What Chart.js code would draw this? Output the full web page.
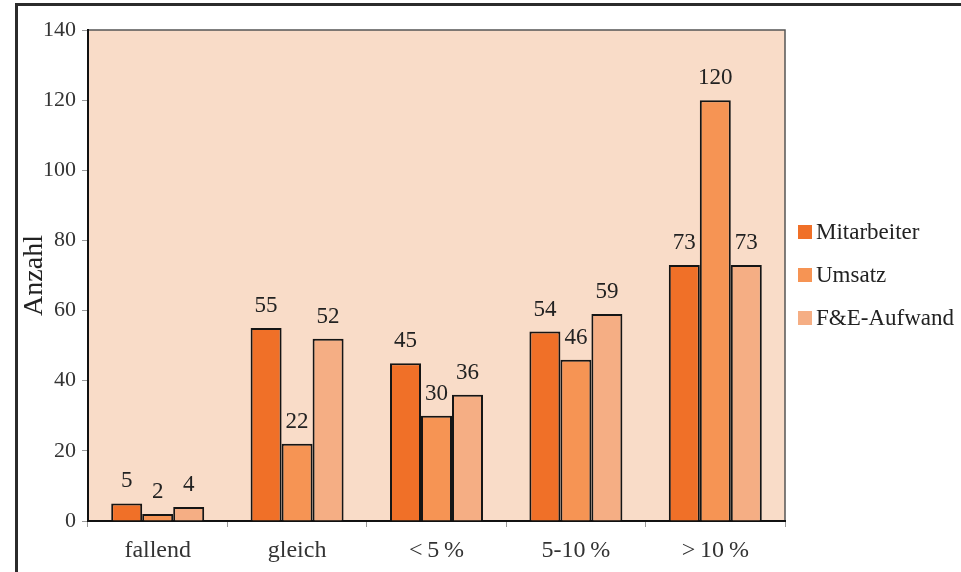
<!DOCTYPE html>
<html lang="de">
<head>
<meta charset="utf-8">
<title>Anzahl nach Entwicklung</title>
<script src="https://cdn.jsdelivr.net/npm/chart.js@4.4.1/dist/chart.umd.min.js"></script>
<style>
    html, body { margin: 0; padding: 0; background: #fff; }
    body { width: 961px; height: 572px; position: relative; overflow: hidden; }
    #frame {
        position: absolute; left: 15px; top: 3px;
        width: 946px; height: 569px;
        border-left: 3px solid #2b2b2b; border-top: 3px solid #2b2b2b;
    }
    #chart { display: block; }
    #legend { position: absolute; left: 798px; top: 0; font-family: "Liberation Serif", serif; font-size: 23px; color: #222; }
    .item { position: absolute; left: 0; height: 30px; display: flex; align-items: center; white-space: nowrap; }
    .box { width: 14px; height: 14px; margin-right: 4px; }
</style>
</head>
<body>
<div id="frame"><canvas id="chart" width="943" height="566"></canvas></div>
<div id="legend"></div>
<script>
// Daten
const kategorien = ['fallend', 'gleich', '<\u20095\u2009%', '5-10\u2009%', '>\u200910\u2009%'];
const mitarbeiter = [5, 55, 45, 54, 73];
const umsatz = [2, 22, 30, 46, 120];
const fueAufwand = [4, 52, 36, 59, 73];
const serienNamen = ['Mitarbeiter', 'Umsatz', 'F&E-Aufwand'];
const yTicks = [0, 20, 40, 60, 80, 100, 120, 140];

const farben = ['#f07028', '#f69454', '#f5ae84'];
const schrift = '"Liberation Serif", serif';

// Hintergrund der Zeichenfläche mit Rahmen oben/rechts
const plotBackground = {
    id: 'plotBackground',
    beforeDraw(chart) {
        const { ctx, chartArea: a } = chart;
        ctx.save();
        ctx.fillStyle = '#f9dcc8';
        ctx.fillRect(a.left, a.top, a.width, a.height);
        ctx.strokeStyle = '#555';
        ctx.lineWidth = 1.5;
        ctx.beginPath();
        ctx.moveTo(a.left, a.top);
        ctx.lineTo(a.right, a.top);
        ctx.lineTo(a.right, a.bottom);
        ctx.stroke();
        ctx.restore();
    }
};

// Werte über den Balken
const barValues = {
    id: 'barValues',
    afterDatasetsDraw(chart) {
        const { ctx } = chart;
        ctx.save();
        ctx.font = '23px ' + schrift;
        ctx.fillStyle = '#222';
        ctx.textAlign = 'center';
        ctx.textBaseline = 'alphabetic';
        chart.data.datasets.forEach((ds, i) => {
            chart.getDatasetMeta(i).data.forEach((bar, j) => {
                ctx.fillText(String(ds.data[j]), bar.x, bar.y - 16);
            });
        });
        ctx.restore();
    }
};

const ctx = document.getElementById('chart').getContext('2d');
const chart = new Chart(ctx, {
    type: 'bar',
    data: {
        labels: kategorien,
        datasets: [mitarbeiter, umsatz, fueAufwand].map((werte, i) => ({
            label: serienNamen[i],
            data: werte,
            backgroundColor: farben[i],
            borderColor: '#151515',
            borderWidth: 2,
            categoryPercentage: 0.667,
            barPercentage: 1
        }))
    },
    options: {
        responsive: false,
        animation: false,
        devicePixelRatio: 1,
        layout: { padding: { top: 24, right: 176, left: 0, bottom: 0 } },
        plugins: {
            legend: { display: false },
            tooltip: { enabled: false }
        },
        scales: {
            x: {
                grid: { display: true, drawOnChartArea: false, drawTicks: true, tickLength: 6, color: '#999', offset: true },
                border: { display: true, color: '#111', width: 2 },
                ticks: { color: '#333', padding: 9, font: { family: schrift, size: 24 } },
                afterFit(scale) { scale.height = 51; }
            },
            y: {
                min: 0,
                max: 140,
                afterBuildTicks(scale) { scale.ticks = yTicks.map(v => ({ value: v })); },
                grid: { display: true, drawOnChartArea: false, drawTicks: true, tickLength: 6, color: '#999' },
                border: { display: true, color: '#111', width: 2 },
                ticks: { color: '#333', padding: 6, font: { family: schrift, size: 22 } },
                title: { display: true, text: 'Anzahl', color: '#222', padding: { top: 0, bottom: 0 }, font: { family: schrift, size: 28 } },
                afterFit(scale) { scale.width = 70; }
            }
        }
    },
    plugins: [plotBackground, barValues]
});

// Legende rechts
const legende = document.getElementById('legend');
const legendTops = [217, 260, 303];
serienNamen.forEach((name, i) => {
    const item = document.createElement('div');
    item.className = 'item';
    item.style.top = legendTops[i] + 'px';
    const box = document.createElement('span');
    box.className = 'box';
    box.style.background = farben[i];
    const text = document.createElement('span');
    text.textContent = name;
    item.appendChild(box);
    item.appendChild(text);
    legende.appendChild(item);
});
</script>
</body>
</html>
